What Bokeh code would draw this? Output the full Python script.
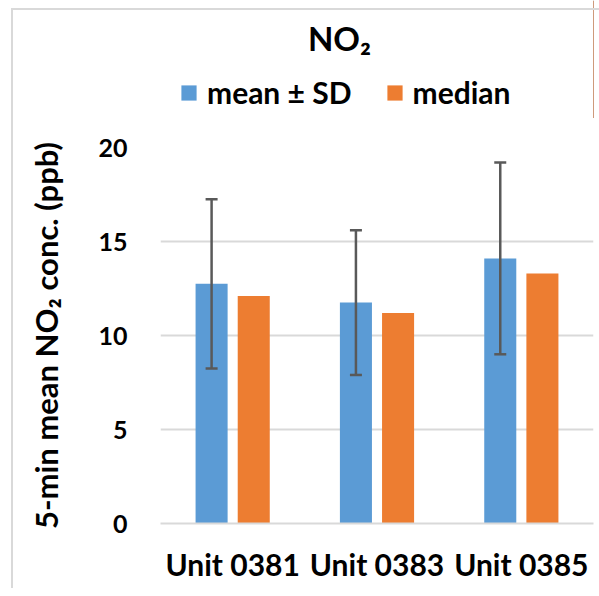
from bokeh.plotting import figure
from bokeh.layouts import column
from bokeh.models import (FactorRange, Range1d, SingleIntervalTicker, Whisker, TeeHead,
                          ColumnDataSource, Legend, LegendItem, Label, InlineStyleSheet)
from bokeh.transform import dodge
from bokeh.embed import file_html
from bokeh.resources import INLINE

units = ["Unit 0381", "Unit 0383", "Unit 0385"]
mean_vals = [12.75, 11.75, 14.1]
median_vals = [12.1, 11.2, 13.3]
sd_vals = [4.5, 3.85, 5.1]
series_names = ["mean \u00b1 SD", "median"]
title_text = "NO\u2082"
y_label = "5-min mean NO\u2082 conc. (ppb)"

BLUE = "#5B9BD5"
ORANGE = "#ED7D31"
FONT = "Lato"
HEAD_H = 118
FRAME_TOP = 147

src = ColumnDataSource(dict(
    unit=units, mean=mean_vals, median=median_vals,
    upper=[m + s for m, s in zip(mean_vals, sd_vals)],
    lower=[m - s for m, s in zip(mean_vals, sd_vals)],
))

# ---------------- header (title + legend) ----------------
h = figure(width=599, height=HEAD_H, output_backend="svg", toolbar_location=None,
           x_range=Range1d(0, 1), y_range=Range1d(0, 1),
           min_border_left=0, min_border_right=0, min_border_top=0, min_border_bottom=0)
h.axis.visible = False
h.grid.visible = False
h.outline_line_color = None
h.background_fill_color = "white"
h.border_fill_color = "white"

# legend proxies (their bars fall outside this header's ranges, only the legend shows)
hb = h.vbar(x="mean", top="mean", width=0.1, source=src, fill_color=BLUE, line_color=None)
ho = h.vbar(x="median", top="median", width=0.1, source=src, fill_color=ORANGE, line_color=None)

legend = Legend(items=[LegendItem(label=series_names[0], renderers=[hb]),
                       LegendItem(label=series_names[1], renderers=[ho])],
                location=(19, HEAD_H - 110), orientation="horizontal",
                glyph_width=19, glyph_height=19, label_standoff=9, spacing=33,
                padding=0, margin=0, border_line_color=None, background_fill_alpha=0,
                label_text_font=FONT, label_text_font_style="bold",
                label_text_font_size="30px", label_text_color="black")
h.add_layout(legend)

title = Label(x=179, y=HEAD_H - 37, x_units="screen", y_units="screen", text=title_text,
              text_align="center", text_baseline="alphabetic", text_font=FONT,
              text_font_style="bold", text_font_size="33px", text_color="black")
h.add_layout(title)

# ---------------- main chart ----------------
p = figure(width=599, height=596 - HEAD_H, x_range=FactorRange(*units, range_padding=0),
           y_range=Range1d(0, 20), output_backend="svg", toolbar_location=None,
           min_border_left=160, min_border_right=6, min_border_top=FRAME_TOP - HEAD_H,
           min_border_bottom=73)
p.outline_line_color = None
p.background_fill_color = "white"
p.border_fill_color = "white"

OFF = 0.146
W = 0.222
rb = p.vbar(x=dodge("unit", -OFF, range=p.x_range), top="mean", width=W, source=src,
            fill_color=BLUE, line_color=None)
ro = p.vbar(x=dodge("unit", OFF, range=p.x_range), top="median", width=W, source=src,
            fill_color=ORANGE, line_color=None)

wh = Whisker(base=dodge("unit", -OFF, range=p.x_range), upper="upper", lower="lower", source=src,
             line_color="#595959", line_width=2.5, level="overlay",
             upper_head=TeeHead(size=12, line_color="#595959", line_width=2.5),
             lower_head=TeeHead(size=12, line_color="#595959", line_width=2.5))
p.add_layout(wh)

p.yaxis.ticker = SingleIntervalTicker(interval=5)
p.yaxis.axis_line_color = None
p.yaxis.major_tick_line_color = None
p.yaxis.minor_tick_line_color = None
p.yaxis.major_label_text_font = FONT
p.yaxis.major_label_text_font_style = "bold"
p.yaxis.major_label_text_font_size = "25px"
p.yaxis.major_label_text_color = "black"
p.yaxis.major_label_standoff = 27
p.yaxis.axis_label = y_label
p.yaxis.axis_label_text_font = FONT
p.yaxis.axis_label_text_font_style = "bold"
p.yaxis.axis_label_text_font_size = "31px"
p.yaxis.axis_label_text_color = "black"
p.yaxis.axis_label_standoff = 30

p.xaxis.axis_line_color = "#d9d9d9"
p.xaxis.axis_line_width = 2
p.xaxis.major_tick_line_color = None
p.xaxis.minor_tick_line_color = None
p.xaxis.major_label_text_font = FONT
p.xaxis.major_label_text_font_style = "bold"
p.xaxis.major_label_text_font_size = "30px"
p.xaxis.major_label_text_color = "black"
p.xaxis.major_label_standoff = 16

p.xgrid.grid_line_color = None
p.ygrid.grid_line_color = "#d9d9d9"
p.ygrid.grid_line_width = 2

frame_css = InlineStyleSheet(css="""
:host { position: relative; }
:host::after {
  content: ""; position: absolute; left: 11px; top: 8px; right: 0; bottom: 8px;
  border-left: 2px solid #d9d9d9; border-top: 2px solid #d9d9d9;
  pointer-events: none; z-index: 10;
}
""")

layout = column(h, p, spacing=0, stylesheets=[frame_css])
open("out.html", "w").write(file_html(layout, INLINE))
